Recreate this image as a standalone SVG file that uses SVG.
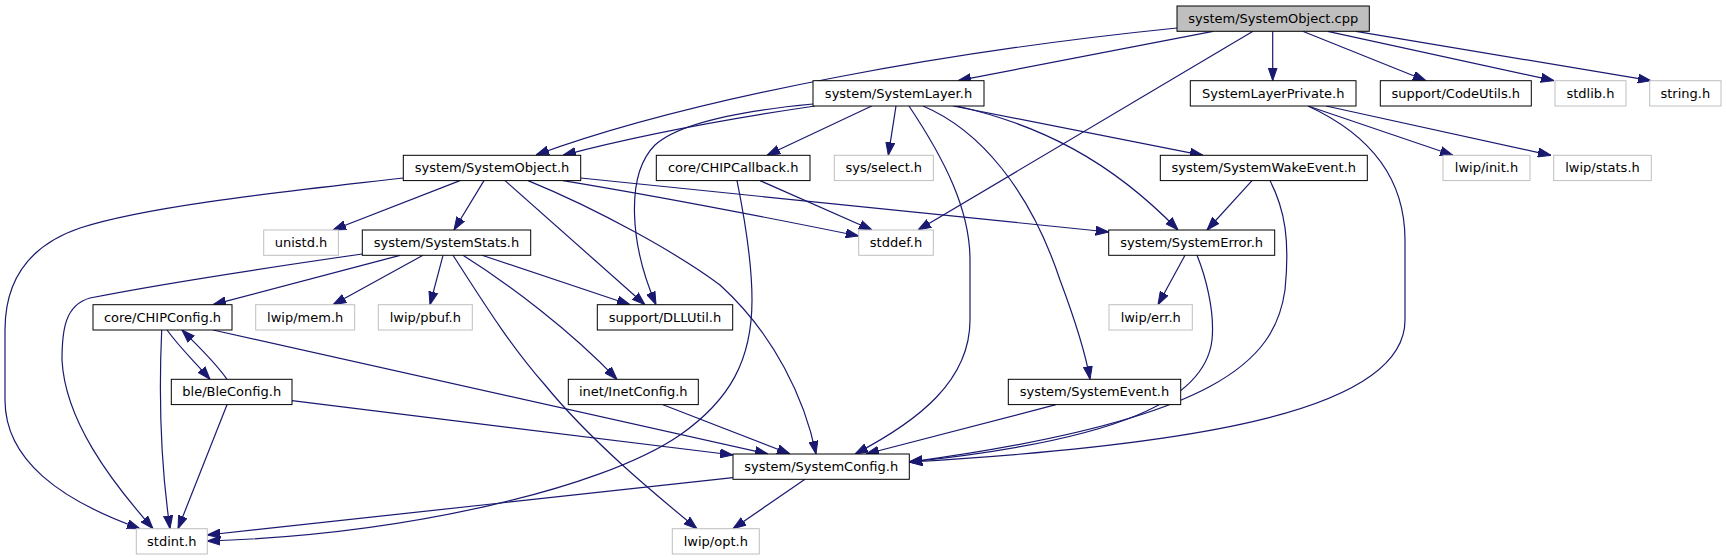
<svg xmlns="http://www.w3.org/2000/svg" width="1726" height="560" viewBox="0 0 1726 560">
<style>
rect{fill:#fff;stroke:#000;stroke-width:1}
rect.g{stroke:#bfbfbf}
rect.r{fill:#bfbfbf}
text{font-family:"DejaVu Sans",sans-serif;font-size:13px;text-anchor:middle;fill:#000}
#edges path{fill:none;stroke:#191970;stroke-width:1.2;marker-end:url(#a)}
</style>
<defs>
<marker id="a" markerWidth="13" markerHeight="10" refX="13" refY="5" orient="auto" markerUnits="userSpaceOnUse"><path d="M0,0.5 L13,5 L0,9.5 z" fill="#191970" stroke="#191970" stroke-width="1"/></marker>
</defs>
<rect x="0" y="0" width="1726" height="560" style="fill:#fff;stroke:none"/>
<g id="edges">
<path d="M1177,28 C960,50 700,95 536,155"/>
<path d="M1213,31.3 L958,80.7"/>
<path d="M1253,31.3 L918,230"/>
<path d="M1272.7,31.3 L1272.7,80.7"/>
<path d="M1302.7,31.3 L1426,80.7"/>
<path d="M1327.7,31.3 L1554,80.7"/>
<path d="M1356,31.3 L1651,80.7"/>
<path d="M815,106 C720,120 640,135 563,155.3"/>
<path d="M813,104 C750,110 680,122 655,145 C625,175 630,245 656,304.7"/>
<path d="M871.7,106 L767,155.3"/>
<path d="M896,106 L888.3,155.3"/>
<path d="M909,106 C945,160 970,210 970,260 L970,320 C970,380 920,420 855,454"/>
<path d="M923,106 C980,130 1030,190 1060,280 C1075,320 1085,350 1090,379.3"/>
<path d="M957,106 C1040,125 1110,160 1178,230"/>
<path d="M953,106 L1203,155.3"/>
<path d="M403.3,178 C300,190 150,205 80,228 C30,245 5,280 5,330 L5,400 C5,460 60,500 140,528.7"/>
<path d="M460,180.6 L333,230"/>
<path d="M484,180.6 L454,230"/>
<path d="M505,180.6 L645,304.7"/>
<path d="M528,180.6 C600,210 680,255 720,285 C775,335 805,400 816,454"/>
<path d="M563,180.6 C680,200 780,220 858.7,236"/>
<path d="M580.7,178 L1108.7,232"/>
<path d="M362.3,254 C300,263 170,282 90,298 C65,305 62,330 62,360 C65,420 110,480 153,528.7"/>
<path d="M400,255.3 L213,304.7"/>
<path d="M423,255.3 L333,304.7"/>
<path d="M443,255.3 L430,304.7"/>
<path d="M453,255.3 C485,305 510,345 545,385 C590,440 650,490 697,528.7"/>
<path d="M463,255.3 C510,285 570,330 617,379.3"/>
<path d="M482,255.3 L630,304.7"/>
<path d="M760,180.6 L872,230"/>
<path d="M737,180.6 C745,220 752,260 752,300 C752,360 730,400 680,435 C600,490 400,535 207.3,541"/>
<path d="M161.7,330 C159,390 160,460 170,528.7"/>
<path d="M167,330 C180,348 195,362 210,379.3"/>
<path d="M213,330 L768,454"/>
<path d="M227,379.3 C215,362 200,348 182,330"/>
<path d="M227,404.7 L178,528.7"/>
<path d="M292,400.7 L733,455"/>
<path d="M663,404.7 L790,454"/>
<path d="M1056,404.7 L866,454"/>
<path d="M1197,255.3 C1205,275 1215,310 1212,340 C1205,400 1120,440 909.3,462"/>
<path d="M1270,180.6 C1285,210 1290,240 1285,290 C1275,360 1220,420 909.3,462"/>
<path d="M1308,106 C1360,130 1405,170 1405,240 L1405,320 C1405,410 1200,445 909.3,462"/>
<path d="M1185,255.3 L1158,304.7"/>
<path d="M1252,180.6 L1207,230"/>
<path d="M1308,106 L1453,155.3"/>
<path d="M1326,106 L1551,155.3"/>
<path d="M733,477.7 L207.3,535"/>
<path d="M805,479.3 L733,528.7"/>
</g>
<g id="n1"><rect class="r" x="1177" y="6" width="192.3" height="25.3"/><text x="1273.2" y="23">system/SystemObject.cpp</text></g>
<g id="n2"><rect x="813" y="80.7" width="171" height="25.3"/><text x="898.5" y="97.7">system/SystemLayer.h</text></g>
<g id="n3"><rect x="1190.3" y="80.7" width="165.7" height="25.3"/><text x="1273.2" y="97.7">SystemLayerPrivate.h</text></g>
<g id="n4"><rect x="1380.3" y="80.7" width="151" height="25.3"/><text x="1455.8" y="97.7">support/CodeUtils.h</text></g>
<g id="n5"><rect class="g" x="1555" y="80.7" width="71" height="25.3"/><text x="1590.5" y="97.7">stdlib.h</text></g>
<g id="n6"><rect class="g" x="1649.7" y="80.7" width="71.3" height="25.3"/><text x="1685.3" y="97.7">string.h</text></g>
<g id="n7"><rect x="403.3" y="155.3" width="177.4" height="25.3"/><text x="492" y="172.3">system/SystemObject.h</text></g>
<g id="n8"><rect x="656.3" y="155.3" width="153.7" height="25.3"/><text x="733.2" y="172.3">core/CHIPCallback.h</text></g>
<g id="n9"><rect class="g" x="834.3" y="155.3" width="99" height="25.3"/><text x="883.8" y="172.3">sys/select.h</text></g>
<g id="n10"><rect x="1160.3" y="155.3" width="207" height="25.3"/><text x="1263.8" y="172.3">system/SystemWakeEvent.h</text></g>
<g id="n11"><rect class="g" x="1443" y="155.3" width="87" height="25.3"/><text x="1486.5" y="172.3">lwip/init.h</text></g>
<g id="n12"><rect class="g" x="1553.7" y="155.3" width="97.6" height="25.3"/><text x="1602.5" y="172.3">lwip/stats.h</text></g>
<g id="n13"><rect class="g" x="263.7" y="230" width="74.7" height="25.3"/><text x="301" y="247">unistd.h</text></g>
<g id="n14"><rect x="362.3" y="230" width="168.4" height="25.3"/><text x="446.5" y="247">system/SystemStats.h</text></g>
<g id="n15"><rect class="g" x="858.7" y="230" width="74.6" height="25.3"/><text x="896" y="247">stddef.h</text></g>
<g id="n16"><rect x="1108.7" y="230" width="166" height="25.3"/><text x="1191.7" y="247">system/SystemError.h</text></g>
<g id="n17"><rect x="93" y="304.7" width="139" height="25.3"/><text x="162.5" y="321.7">core/CHIPConfig.h</text></g>
<g id="n18"><rect class="g" x="255.7" y="304.7" width="99" height="25.3"/><text x="305.2" y="321.7">lwip/mem.h</text></g>
<g id="n19"><rect class="g" x="378.3" y="304.7" width="94" height="25.3"/><text x="425.3" y="321.7">lwip/pbuf.h</text></g>
<g id="n20"><rect x="597.3" y="304.7" width="135.4" height="25.3"/><text x="665" y="321.7">support/DLLUtil.h</text></g>
<g id="n21"><rect class="g" x="1109" y="304.7" width="83.3" height="25.3"/><text x="1150.7" y="321.7">lwip/err.h</text></g>
<g id="n22"><rect x="171.3" y="379.3" width="120.7" height="25.3"/><text x="231.7" y="396.3">ble/BleConfig.h</text></g>
<g id="n23"><rect x="568.3" y="379.3" width="130" height="25.3"/><text x="633.3" y="396.3">inet/InetConfig.h</text></g>
<g id="n24"><rect x="1008.3" y="379.3" width="172.4" height="25.3"/><text x="1094.5" y="396.3">system/SystemEvent.h</text></g>
<g id="n25"><rect x="733" y="454" width="176.3" height="25.3"/><text x="821.2" y="471">system/SystemConfig.h</text></g>
<g id="n26"><rect class="g" x="136.3" y="528.7" width="71" height="25.3"/><text x="171.8" y="545.7">stdint.h</text></g>
<g id="n27"><rect class="g" x="672.3" y="528.7" width="87" height="25.3"/><text x="715.8" y="545.7">lwip/opt.h</text></g>
</svg>
